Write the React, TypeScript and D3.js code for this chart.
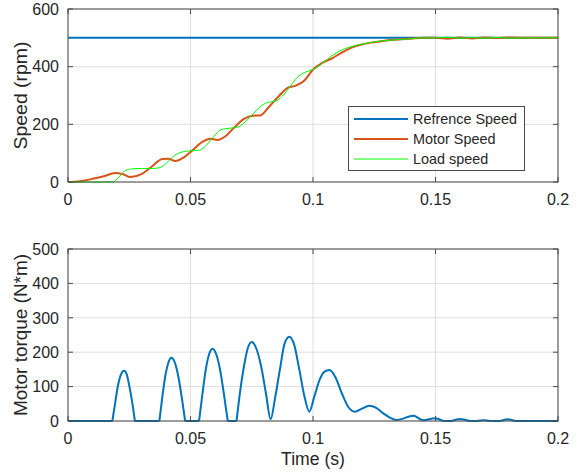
import React from "react";
import * as d3 from "d3";

// ---- data ----
const xTicks = [0, 0.05, 0.1, 0.15, 0.2];
const speedTicks = [0, 200, 400, 600];
const torqueTicks = [0, 100, 200, 300, 400, 500];

const refTime = [0, 0.2];
const refSpeed = [500, 500];

const motorTime = [0, 0.005, 0.01, 0.015, 0.0192, 0.0225, 0.0255, 0.03, 0.034, 0.0385, 0.041, 0.0438, 0.047, 0.0505, 0.055, 0.058, 0.061, 0.064, 0.0675, 0.072, 0.0755, 0.0785, 0.082, 0.0865, 0.0898, 0.093, 0.0965, 0.1, 0.104, 0.108, 0.112, 0.116, 0.12, 0.125, 0.13, 0.135, 0.14, 0.145, 0.15, 0.155, 0.16, 0.165, 0.17, 0.175, 0.18, 0.19, 0.2];
const motorSpeed = [0, 3, 11, 21, 31, 27, 17, 27, 52, 80, 81, 73, 84, 108, 140, 150, 146, 157, 186, 220, 230, 231, 260, 302, 327, 334, 352, 390, 414, 430, 450, 467, 477, 485, 491, 494, 497, 500, 500, 497, 501, 498, 501, 499, 501, 500, 500];

const loadTime = [0, 0.0185, 0.0205, 0.0228, 0.0255, 0.03, 0.0345, 0.0375, 0.0405, 0.0435, 0.0465, 0.0495, 0.0535, 0.0565, 0.0595, 0.0625, 0.0665, 0.0695, 0.0725, 0.0755, 0.0785, 0.0815, 0.0845, 0.0875, 0.0905, 0.0935, 0.0968, 0.1, 0.103, 0.107, 0.111, 0.115, 0.12, 0.125, 0.13, 0.135, 0.14, 0.145, 0.15, 0.155, 0.16, 0.165, 0.17, 0.175, 0.18, 0.19, 0.2];
const loadSpeed = [0, 0, 14, 36, 45, 47, 47, 50, 68, 92, 104, 108, 110, 128, 158, 182, 187, 191, 210, 236, 262, 276, 280, 298, 330, 362, 381, 390, 406, 433, 455, 468, 478, 486, 491, 494, 497, 500, 500, 502, 499, 501, 499, 501, 499, 500, 500];

const torqueTime = [
  0, 0.0181, 0.0193, 0.0204, 0.0216, 0.0229, 0.024, 0.025, 0.0262, 0.0273,
  0.0373, 0.0385, 0.0397, 0.041, 0.0422, 0.0436, 0.045, 0.0464, 0.0478,
  0.0535, 0.0549, 0.0562, 0.0576, 0.059, 0.0605, 0.0621, 0.0636, 0.0652,
  0.0688, 0.0703, 0.0719, 0.0734, 0.075, 0.0769, 0.0788, 0.0808, 0.0827,
  0.0846, 0.0865, 0.0884, 0.0903, 0.0923, 0.0944, 0.0964, 0.0985,
  0.1005, 0.1026, 0.1046, 0.1067, 0.1093, 0.1118, 0.1145, 0.1171,
  0.12, 0.123, 0.1258, 0.1287, 0.1314, 0.1341, 0.141, 0.145, 0.1498, 0.153,
  0.1565, 0.16, 0.164, 0.1668, 0.1696, 0.1725, 0.1765, 0.1794, 0.1825, 0.2,
];
const torqueValue = [
  0, 0, 55, 103, 135, 146, 135, 103, 55, 0,
  0, 70, 130, 170, 184, 170, 130, 70, 0,
  0, 80, 148, 194, 210, 194, 148, 80, 0,
  0, 88, 162, 212, 230, 210, 160, 80, 5,
  70, 150, 225, 245, 222, 150, 75, 27,
  70, 118, 143, 148, 125, 80, 40, 27,
  36, 44, 38, 22, 10, 3, 15, 2, 8, 0,
  0, 6, 0, 0, 2, 0, 0, 5, 0, 0,
];

// ---- layout ----
const W = 578, H = 473;
const left = 68, right = 558;
const top1 = 9, bot1 = 182;
const top2 = 249, bot2 = 421;

const FONT = "'Liberation Sans', Arial, Helvetica, sans-serif";
const TXT = "#262626";
const AX = "#4a4a4a";
const GRID = "#dfdfdf";
const BLUE = "#0072BD";
const ORANGE = "#D95319";
const GREEN = "#00FF00";

type Pt = [number, number];

function zip(t: number[], v: number[]): Pt[] {
  return t.map((tt, i) => [tt, v[i]] as Pt);
}

function buildPath(pts: Pt[], x: d3.ScaleLinear<number, number>, y: d3.ScaleLinear<number, number>): string {
  // flat zero runs drawn linear (keeps clipping kinks), the rest smooth
  const out: string[] = [];
  let run: Pt[] = [pts[0]];
  let runFlat: boolean | null = null;
  const flush = () => {
    if (run.length < 2) return;
    const gen = d3
      .line<Pt>()
      .x((d) => x(d[0]))
      .y((d) => y(d[1]))
      .curve(runFlat ? d3.curveLinear : d3.curveMonotoneX);
    out.push(gen(run) || "");
  };
  for (let i = 0; i < pts.length - 1; i++) {
    const flat = pts[i][1] === 0 && pts[i + 1][1] === 0;
    if (runFlat === null) runFlat = flat;
    if (flat !== runFlat) {
      flush();
      run = [pts[i]];
      runFlat = flat;
    }
    run.push(pts[i + 1]);
  }
  flush();
  return out.join("");
}

function Axes(props: {
  y0: number;
  y1: number;
  yDomain: [number, number];
  yTicks: number[];
  children: (x: d3.ScaleLinear<number, number>, y: d3.ScaleLinear<number, number>) => React.ReactNode;
}) {
  const { y0, y1, yDomain, yTicks } = props;
  const x = d3.scaleLinear().domain([0, 0.2]).range([left, right]);
  const y = d3.scaleLinear().domain(yDomain).range([y1, y0]);
  const tl = 5;
  const fmtX = (v: number) => (v === 0 ? "0" : String(+v.toFixed(2)));
  return (
    <g>
      {xTicks.map((t) => (
        <line key={"gx" + t} x1={x(t)} x2={x(t)} y1={y0} y2={y1} stroke={GRID} strokeWidth={1} />
      ))}
      {yTicks.map((t) => (
        <line key={"gy" + t} x1={left} x2={right} y1={y(t)} y2={y(t)} stroke={GRID} strokeWidth={1} />
      ))}
      {props.children(x, y)}
      <rect x={left} y={y0} width={right - left} height={y1 - y0} fill="none" stroke={AX} strokeWidth={1} />
      {xTicks.map((t) => (
        <g key={"tx" + t}>
          <line x1={x(t)} x2={x(t)} y1={y1} y2={y1 - tl} stroke={AX} />
          <line x1={x(t)} x2={x(t)} y1={y0} y2={y0 + tl} stroke={AX} />
          <text x={x(t)} y={y1 + 23} textAnchor="middle" fontSize={16} fill={TXT} fontFamily={FONT}>
            {fmtX(t)}
          </text>
        </g>
      ))}
      {yTicks.map((t) => (
        <g key={"ty" + t}>
          <line x1={left} x2={left + tl} y1={y(t)} y2={y(t)} stroke={AX} />
          <line x1={right} x2={right - tl} y1={y(t)} y2={y(t)} stroke={AX} />
          <text x={left - 9} y={y(t)} dy="0.36em" textAnchor="end" fontSize={16} fill={TXT} fontFamily={FONT}>
            {t}
          </text>
        </g>
      ))}
    </g>
  );
}

export default function App() {
  const legendItems = [
    { label: "Refrence Speed", color: BLUE, w: 2 },
    { label: "Motor Speed", color: ORANGE, w: 2 },
    { label: "Load speed", color: GREEN, w: 1 },
  ];
  const legendY = [119, 139, 159];
  return (
    <svg width={W} height={H} style={{ position: "absolute", left: 0, top: 0, background: "#fff" }}>
      <rect x={0} y={0} width={W} height={H} fill="#fff" />
      <Axes y0={top1} y1={bot1} yDomain={[0, 600]} yTicks={speedTicks}>
        {(x, y) => (
          <g fill="none">
            <path d={buildPath(zip(refTime, refSpeed), x, y)} stroke={BLUE} strokeWidth={2} />
            <path d={buildPath(zip(motorTime, motorSpeed), x, y)} stroke={ORANGE} strokeWidth={2} />
            <path d={buildPath(zip(loadTime, loadSpeed), x, y)} stroke={GREEN} strokeWidth={1} />
          </g>
        )}
      </Axes>
      <Axes y0={top2} y1={bot2} yDomain={[0, 500]} yTicks={torqueTicks}>
        {(x, y) => (
          <g fill="none">
            <path d={buildPath(zip(torqueTime, torqueValue), x, y)} stroke={BLUE} strokeWidth={2} />
          </g>
        )}
      </Axes>
      <rect x={348.5} y={106.5} width={176} height={64} fill="#fff" stroke={AX} strokeWidth={1} />
      {legendItems.map((it, i) => (
        <g key={it.label}>
          <line x1={354} x2={408} y1={legendY[i]} y2={legendY[i]} stroke={it.color} strokeWidth={it.w} />
          <text x={413} y={legendY[i]} dy="0.36em" fontSize={14.4} fill={TXT} fontFamily={FONT}>
            {it.label}
          </text>
        </g>
      ))}
      <text
        transform={`translate(27,${(top1 + bot1) / 2}) rotate(-90)`}
        textAnchor="middle"
        fontSize={17.6}
        fill={TXT}
        fontFamily={FONT}
        textLength={108}
        lengthAdjust="spacingAndGlyphs"
      >
        Speed (rpm)
      </text>
      <text
        transform={`translate(27,${(top2 + bot2) / 2}) rotate(-90)`}
        textAnchor="middle"
        fontSize={17.6}
        fill={TXT}
        fontFamily={FONT}
        textLength={162}
        lengthAdjust="spacingAndGlyphs"
      >
        Motor torque (N*m)
      </text>
      <text x={(left + right) / 2} y={465} textAnchor="middle" fontSize={17.6} fill={TXT} fontFamily={FONT}>
        Time (s)
      </text>
    </svg>
  );
}
